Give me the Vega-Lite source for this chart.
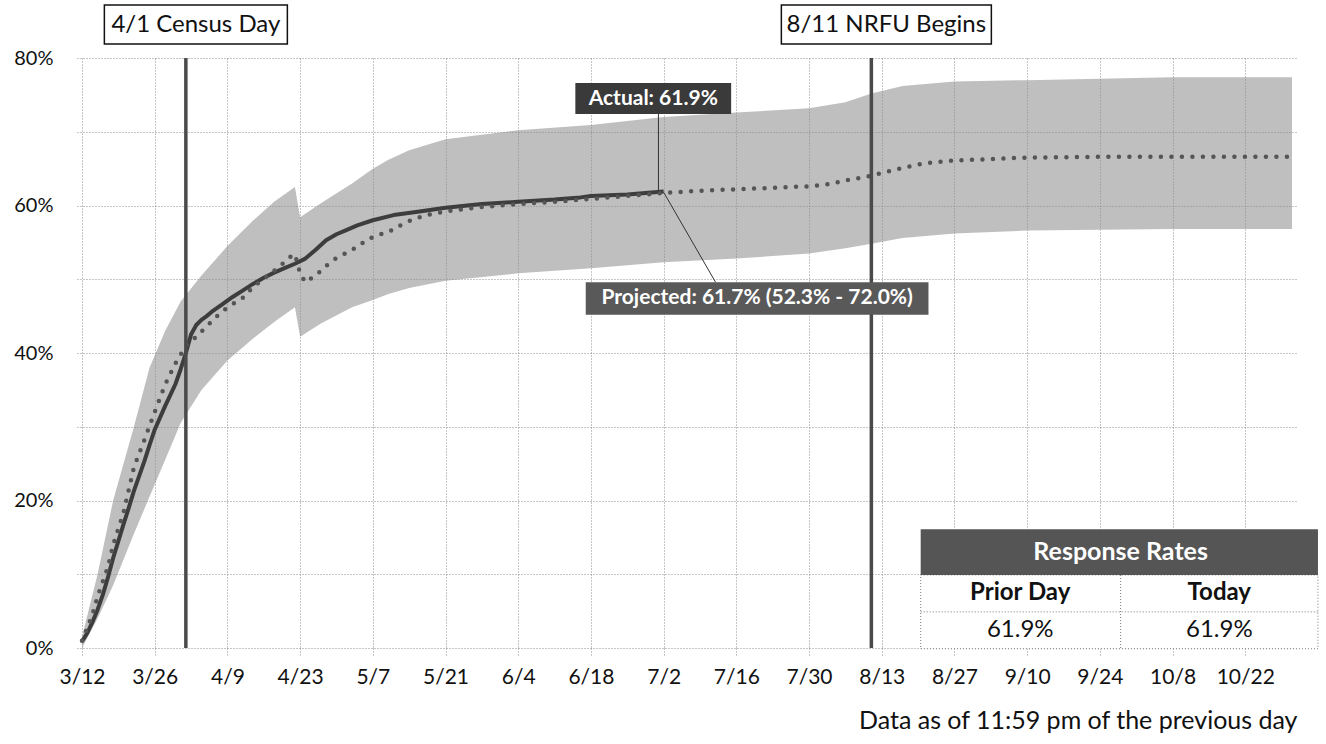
{
  "$schema": "https://vega.github.io/schema/vega-lite/v6.json",
  "width": 1220,
  "height": 590,
  "autosize": {"type": "none"},
  "padding": {"left": 77, "top": 58, "right": 29, "bottom": 96},
  "background": "white",
  "config": {
    "view": {"stroke": null},
    "font": "Lato",
    "text": {"font": "Lato"}
  },
  "datasets": {
    "actual": [
      {"date": "2020-03-12", "rate": 0.9},
      {"date": "2020-03-13", "rate": 2.0},
      {"date": "2020-03-14", "rate": 3.5},
      {"date": "2020-03-15", "rate": 5.2},
      {"date": "2020-03-16", "rate": 7.2},
      {"date": "2020-03-17", "rate": 9.6},
      {"date": "2020-03-18", "rate": 12.2},
      {"date": "2020-03-19", "rate": 14.5},
      {"date": "2020-03-20", "rate": 16.8},
      {"date": "2020-03-21", "rate": 19.0},
      {"date": "2020-03-22", "rate": 21.3},
      {"date": "2020-03-23", "rate": 23.3},
      {"date": "2020-03-24", "rate": 25.3},
      {"date": "2020-03-25", "rate": 27.5},
      {"date": "2020-03-26", "rate": 29.6},
      {"date": "2020-03-27", "rate": 31.2},
      {"date": "2020-03-28", "rate": 32.8},
      {"date": "2020-03-29", "rate": 34.3},
      {"date": "2020-03-30", "rate": 35.8},
      {"date": "2020-03-31", "rate": 37.8},
      {"date": "2020-04-01", "rate": 40.0},
      {"date": "2020-04-02", "rate": 42.5},
      {"date": "2020-04-03", "rate": 43.8},
      {"date": "2020-04-04", "rate": 44.5},
      {"date": "2020-04-05", "rate": 45.0},
      {"date": "2020-04-06", "rate": 45.6},
      {"date": "2020-04-08", "rate": 46.6},
      {"date": "2020-04-10", "rate": 47.6},
      {"date": "2020-04-12", "rate": 48.5},
      {"date": "2020-04-14", "rate": 49.4},
      {"date": "2020-04-16", "rate": 50.2},
      {"date": "2020-04-18", "rate": 50.9},
      {"date": "2020-04-20", "rate": 51.5},
      {"date": "2020-04-22", "rate": 52.1},
      {"date": "2020-04-24", "rate": 52.8},
      {"date": "2020-04-26", "rate": 54.0},
      {"date": "2020-04-28", "rate": 55.3},
      {"date": "2020-04-30", "rate": 56.1},
      {"date": "2020-05-02", "rate": 56.7},
      {"date": "2020-05-04", "rate": 57.3},
      {"date": "2020-05-07", "rate": 58.0},
      {"date": "2020-05-11", "rate": 58.7},
      {"date": "2020-05-16", "rate": 59.2},
      {"date": "2020-05-21", "rate": 59.7},
      {"date": "2020-05-28", "rate": 60.2},
      {"date": "2020-06-04", "rate": 60.5},
      {"date": "2020-06-11", "rate": 60.8},
      {"date": "2020-06-16", "rate": 61.1},
      {"date": "2020-06-18", "rate": 61.3},
      {"date": "2020-06-25", "rate": 61.5},
      {"date": "2020-07-02", "rate": 61.9}
    ],
    "projected": [
      {"date": "2020-03-12", "rate": 1.0},
      {"date": "2020-03-14", "rate": 4.5},
      {"date": "2020-03-15", "rate": 7.0},
      {"date": "2020-03-16", "rate": 9.0},
      {"date": "2020-03-17", "rate": 11.0},
      {"date": "2020-03-18", "rate": 14.0},
      {"date": "2020-03-20", "rate": 18.4},
      {"date": "2020-03-22", "rate": 24.5},
      {"date": "2020-03-24", "rate": 28.2},
      {"date": "2020-03-26", "rate": 32.0},
      {"date": "2020-03-28", "rate": 35.7},
      {"date": "2020-03-30", "rate": 38.6},
      {"date": "2020-04-01", "rate": 41.0},
      {"date": "2020-04-03", "rate": 42.2},
      {"date": "2020-04-05", "rate": 43.6},
      {"date": "2020-04-07", "rate": 45.0},
      {"date": "2020-04-09", "rate": 46.2},
      {"date": "2020-04-12", "rate": 47.5},
      {"date": "2020-04-14", "rate": 49.0},
      {"date": "2020-04-17", "rate": 50.6},
      {"date": "2020-04-19", "rate": 51.7},
      {"date": "2020-04-21", "rate": 53.0},
      {"date": "2020-04-22", "rate": 53.4},
      {"date": "2020-04-23", "rate": 50.8},
      {"date": "2020-04-24", "rate": 49.6},
      {"date": "2020-04-26", "rate": 50.5},
      {"date": "2020-04-28", "rate": 51.8},
      {"date": "2020-04-30", "rate": 52.9},
      {"date": "2020-05-02", "rate": 53.6},
      {"date": "2020-05-04", "rate": 54.4},
      {"date": "2020-05-06", "rate": 55.4},
      {"date": "2020-05-08", "rate": 56.0},
      {"date": "2020-05-10", "rate": 56.4},
      {"date": "2020-05-12", "rate": 57.2},
      {"date": "2020-05-14", "rate": 57.9},
      {"date": "2020-05-16", "rate": 58.4},
      {"date": "2020-05-18", "rate": 58.8},
      {"date": "2020-05-21", "rate": 59.2},
      {"date": "2020-05-28", "rate": 59.8},
      {"date": "2020-06-04", "rate": 60.2},
      {"date": "2020-06-11", "rate": 60.5},
      {"date": "2020-06-18", "rate": 60.9},
      {"date": "2020-06-25", "rate": 61.3},
      {"date": "2020-07-02", "rate": 61.7},
      {"date": "2020-07-09", "rate": 62.0},
      {"date": "2020-07-16", "rate": 62.2},
      {"date": "2020-07-23", "rate": 62.4},
      {"date": "2020-07-30", "rate": 62.6},
      {"date": "2020-08-03", "rate": 62.9},
      {"date": "2020-08-06", "rate": 63.4},
      {"date": "2020-08-10", "rate": 63.9},
      {"date": "2020-08-13", "rate": 64.4},
      {"date": "2020-08-17", "rate": 65.1},
      {"date": "2020-08-21", "rate": 65.7},
      {"date": "2020-08-27", "rate": 66.1},
      {"date": "2020-09-03", "rate": 66.3},
      {"date": "2020-09-10", "rate": 66.5},
      {"date": "2020-09-24", "rate": 66.6},
      {"date": "2020-10-08", "rate": 66.6},
      {"date": "2020-10-31", "rate": 66.6}
    ],
    "band": [
      {"date": "2020-03-12", "lower": 0.0, "upper": 1.5},
      {"date": "2020-03-15", "lower": 4.0, "upper": 10.0},
      {"date": "2020-03-18", "lower": 8.5, "upper": 20.0},
      {"date": "2020-03-22", "lower": 15.5, "upper": 30.0},
      {"date": "2020-03-25", "lower": 20.5, "upper": 38.0},
      {"date": "2020-03-28", "lower": 25.5, "upper": 43.0},
      {"date": "2020-03-31", "lower": 30.5, "upper": 47.0},
      {"date": "2020-04-04", "lower": 35.0, "upper": 50.5},
      {"date": "2020-04-09", "lower": 39.0, "upper": 54.5},
      {"date": "2020-04-14", "lower": 42.0, "upper": 58.0},
      {"date": "2020-04-18", "lower": 44.2, "upper": 60.5},
      {"date": "2020-04-22", "lower": 46.2, "upper": 62.5},
      {"date": "2020-04-23", "lower": 42.2, "upper": 58.4},
      {"date": "2020-04-27", "lower": 44.0, "upper": 60.3},
      {"date": "2020-05-03", "lower": 46.2, "upper": 63.0},
      {"date": "2020-05-07", "lower": 47.2, "upper": 65.0},
      {"date": "2020-05-10", "lower": 48.0, "upper": 66.2},
      {"date": "2020-05-14", "lower": 48.8, "upper": 67.5},
      {"date": "2020-05-21", "lower": 49.8, "upper": 69.0},
      {"date": "2020-06-04", "lower": 50.8, "upper": 70.2},
      {"date": "2020-06-18", "lower": 51.5, "upper": 70.9},
      {"date": "2020-07-02", "lower": 52.3, "upper": 72.0},
      {"date": "2020-07-16", "lower": 52.8, "upper": 72.6},
      {"date": "2020-07-30", "lower": 53.5, "upper": 73.2},
      {"date": "2020-08-06", "lower": 54.2, "upper": 74.0},
      {"date": "2020-08-11", "lower": 54.8, "upper": 75.2},
      {"date": "2020-08-17", "lower": 55.6, "upper": 76.2},
      {"date": "2020-08-27", "lower": 56.2, "upper": 76.8},
      {"date": "2020-09-10", "lower": 56.6, "upper": 77.0},
      {"date": "2020-09-24", "lower": 56.7, "upper": 77.2},
      {"date": "2020-10-08", "lower": 56.8, "upper": 77.4},
      {"date": "2020-10-31", "lower": 56.8, "upper": 77.4}
    ],
    "events": [
      {"date": "2020-04-01", "label": "4/1 Census Day"},
      {"date": "2020-08-11", "label": "8/11 NRFU Begins"}
    ],
    "rates": [
      {"day": "Prior Day", "rate": 0.619},
      {"day": "Today", "rate": 0.619}
    ]
  },
  "layer": [
    {
      "data": {"name": "band"},
      "mark": {"type": "area", "color": "#8a8a8a", "fillOpacity": 0.55},
      "encoding": {
        "x": {
          "field": "date", "type": "temporal",
          "scale": {"type": "utc", "domain": [{"year": 2020, "month": 3, "date": 12, "utc": true}, {"year": 2020, "month": 10, "date": 31, "utc": true}]},
          "axis": {
            "values": [
              {"year": 2020, "month": 3, "date": 12, "utc": true},
              {"year": 2020, "month": 3, "date": 26, "utc": true},
              {"year": 2020, "month": 4, "date": 9, "utc": true},
              {"year": 2020, "month": 4, "date": 23, "utc": true},
              {"year": 2020, "month": 5, "date": 7, "utc": true},
              {"year": 2020, "month": 5, "date": 21, "utc": true},
              {"year": 2020, "month": 6, "date": 4, "utc": true},
              {"year": 2020, "month": 6, "date": 18, "utc": true},
              {"year": 2020, "month": 7, "date": 2, "utc": true},
              {"year": 2020, "month": 7, "date": 16, "utc": true},
              {"year": 2020, "month": 7, "date": 30, "utc": true},
              {"year": 2020, "month": 8, "date": 13, "utc": true},
              {"year": 2020, "month": 8, "date": 27, "utc": true},
              {"year": 2020, "month": 9, "date": 10, "utc": true},
              {"year": 2020, "month": 9, "date": 24, "utc": true},
              {"year": 2020, "month": 10, "date": 8, "utc": true},
              {"year": 2020, "month": 10, "date": 22, "utc": true}
            ],
            "format": "%-m/%-d",
            "labelFontSize": 21,
            "labelColor": "#111111",
            "labelPadding": 9,
            "labelFlush": false,
            "labelOverlap": false,
            "tickSize": 9,
            "tickDash": [1, 2],
            "tickColor": "#8c8c8c",
            "grid": true,
            "gridDash": [1, 2],
            "gridColor": "#8c8c8c",
            "domain": false,
            "title": "Data as of 11:59 pm of the previous day",
            "titleAnchor": "end",
            "titleFontSize": 25,
            "titleFontWeight": "normal",
            "titleColor": "#111111",
            "titlePadding": 21
          }
        },
        "y": {
          "field": "upper", "type": "quantitative",
          "scale": {"domain": [0, 80], "nice": false},
          "axis": {
            "values": [0, 10, 20, 30, 40, 50, 60, 70, 80],
            "labelExpr": "datum.value % 20 === 0 ? datum.value + '%' : ''",
            "labelFontSize": 20,
            "labelColor": "#111111",
            "labelPadding": 24,
            "ticks": false,
            "tickSize": 0,
            "grid": true,
            "gridDash": [1, 2],
            "gridColor": "#8c8c8c",
            "domain": false,
            "title": null
          }
        },
        "y2": {"field": "lower"}
      }
    },
    {
      "data": {"name": "actual"},
      "mark": {"type": "line", "color": "#3d3d3d", "strokeWidth": 4, "strokeJoin": "round"},
      "encoding": {
        "x": {"field": "date", "type": "temporal"},
        "y": {"field": "rate", "type": "quantitative"}
      }
    },
    {
      "data": {"name": "projected"},
      "mark": {"type": "line", "color": "#555555", "strokeWidth": 4.5, "strokeDash": [0, 10.5], "strokeCap": "round"},
      "encoding": {
        "x": {"field": "date", "type": "temporal"},
        "y": {"field": "rate", "type": "quantitative"}
      }
    },
    {
      "data": {"name": "events"},
      "mark": {"type": "rule", "color": "#4a4a4a", "strokeWidth": 3.5},
      "encoding": {
        "x": {"field": "date", "type": "temporal"},
        "y": {"datum": 0},
        "y2": {"datum": 80}
      }
    },
    {
      "data": {"name": "events"},
      "transform": [{"filter": "datum.label === '4/1 Census Day'"}],
      "mark": {"type": "bar", "width": 183, "xOffset": 10, "fill": "white", "stroke": "#111111", "strokeWidth": 1.5},
      "encoding": {
        "x": {"field": "date", "type": "temporal"},
        "y": {"datum": 87.2},
        "y2": {"datum": 81.9}
      }
    },
    {
      "data": {"name": "events"},
      "transform": [{"filter": "datum.label === '8/11 NRFU Begins'"}],
      "mark": {"type": "bar", "width": 210, "xOffset": 15, "fill": "white", "stroke": "#111111", "strokeWidth": 1.5},
      "encoding": {
        "x": {"field": "date", "type": "temporal"},
        "y": {"datum": 87.2},
        "y2": {"datum": 81.9}
      }
    },
    {
      "data": {"name": "events"},
      "transform": [{"filter": "datum.label === '4/1 Census Day'"}],
      "mark": {"type": "text", "fontSize": 24, "xOffset": 10, "align": "center", "baseline": "middle", "color": "#111111"},
      "encoding": {
        "x": {"field": "date", "type": "temporal"},
        "y": {"datum": 84.5},
        "text": {"field": "label"}
      }
    },
    {
      "data": {"name": "events"},
      "transform": [{"filter": "datum.label === '8/11 NRFU Begins'"}],
      "mark": {"type": "text", "fontSize": 24, "xOffset": 15, "align": "center", "baseline": "middle", "color": "#111111"},
      "encoding": {
        "x": {"field": "date", "type": "temporal"},
        "y": {"datum": 84.5},
        "text": {"field": "label"}
      }
    },
    {
      "data": {"values": [{}]},
      "mark": {"type": "rule", "color": "#333333", "strokeWidth": 1},
      "encoding": {
        "x": {"datum": {"year": 2020, "month": 7, "date": 1, "utc": true}},
        "y": {"datum": 72.4},
        "y2": {"datum": 61.9}
      }
    },
    {
      "data": {"values": [{}]},
      "mark": {"type": "rule", "color": "#333333", "strokeWidth": 1},
      "encoding": {
        "x": {"datum": {"year": 2020, "month": 7, "date": 2, "utc": true}},
        "x2": {"datum": {"year": 2020, "month": 7, "date": 12, "utc": true}},
        "y": {"datum": 61.8},
        "y2": {"datum": 49.6}
      }
    },
    {
      "data": {"values": [{}]},
      "mark": {"type": "rect", "fill": "#3a3a3a"},
      "encoding": {
        "x": {"datum": {"year": 2020, "month": 6, "date": 15, "utc": true}},
        "x2": {"datum": {"year": 2020, "month": 7, "date": 15, "utc": true}},
        "y": {"datum": 76.6},
        "y2": {"datum": 72.4}
      }
    },
    {
      "data": {"values": [{}]},
      "mark": {"type": "text", "fontSize": 21, "fontWeight": "bold", "color": "white", "align": "center", "baseline": "middle", "text": "Actual: 61.9%"},
      "encoding": {
        "x": {"datum": {"year": 2020, "month": 6, "date": 30, "utc": true}},
        "y": {"datum": 74.5}
      }
    },
    {
      "data": {"values": [{}]},
      "mark": {"type": "rect", "fill": "#595959"},
      "encoding": {
        "x": {"datum": {"year": 2020, "month": 6, "date": 17, "utc": true}},
        "x2": {"datum": {"year": 2020, "month": 8, "date": 22, "utc": true}},
        "y": {"datum": 49.6},
        "y2": {"datum": 45.2}
      }
    },
    {
      "data": {"values": [{}]},
      "mark": {"type": "text", "fontSize": 21, "fontWeight": "bold", "color": "white", "align": "center", "baseline": "middle", "text": "Projected: 61.7% (52.3% - 72.0%)"},
      "encoding": {
        "x": {"datum": {"year": 2020, "month": 7, "date": 20, "utc": true}},
        "y": {"datum": 47.4}
      }
    },
    {
      "data": {"values": [{}]},
      "mark": {"type": "rect", "fill": "white", "stroke": "#7a7a7a", "strokeDash": [1, 2], "strokeWidth": 1},
      "encoding": {
        "x": {"datum": {"year": 2020, "month": 8, "date": 20, "hours": 12, "utc": true}},
        "x2": {"datum": {"year": 2020, "month": 11, "date": 5, "utc": true}},
        "y": {"datum": 9.9},
        "y2": {"datum": -0.1}
      }
    },
    {
      "data": {"values": [{}]},
      "mark": {"type": "rule", "color": "#7a7a7a", "strokeDash": [1, 2], "strokeWidth": 1},
      "encoding": {
        "x": {"datum": {"year": 2020, "month": 9, "date": 28, "utc": true}},
        "y": {"datum": 9.9},
        "y2": {"datum": -0.1}
      }
    },
    {
      "data": {"values": [{}]},
      "mark": {"type": "rule", "color": "#7a7a7a", "strokeDash": [1, 2], "strokeWidth": 1},
      "encoding": {
        "x": {"datum": {"year": 2020, "month": 8, "date": 20, "hours": 12, "utc": true}},
        "x2": {"datum": {"year": 2020, "month": 11, "date": 5, "utc": true}},
        "y": {"datum": 4.9}
      }
    },
    {
      "data": {"values": [{}]},
      "mark": {"type": "rect", "fill": "#555555"},
      "encoding": {
        "x": {"datum": {"year": 2020, "month": 8, "date": 20, "hours": 12, "utc": true}},
        "x2": {"datum": {"year": 2020, "month": 11, "date": 5, "utc": true}},
        "y": {"datum": 16.1},
        "y2": {"datum": 9.9}
      }
    },
    {
      "data": {"values": [{}]},
      "mark": {"type": "text", "fontSize": 25, "fontWeight": "bold", "color": "white", "align": "center", "baseline": "middle", "text": "Response Rates"},
      "encoding": {
        "x": {"datum": {"year": 2020, "month": 9, "date": 28, "utc": true}},
        "y": {"datum": 13.0}
      }
    },
    {
      "data": {"name": "rates"},
      "transform": [{"filter": "datum.day === 'Prior Day'"}],
      "mark": {"type": "text", "fontSize": 24, "fontWeight": "bold", "color": "#111111", "align": "center", "baseline": "middle"},
      "encoding": {
        "x": {"datum": {"year": 2020, "month": 9, "date": 8, "hours": 16, "utc": true}},
        "y": {"datum": 7.4},
        "text": {"field": "day"}
      }
    },
    {
      "data": {"name": "rates"},
      "transform": [{"filter": "datum.day === 'Today'"}],
      "mark": {"type": "text", "fontSize": 24, "fontWeight": "bold", "color": "#111111", "align": "center", "baseline": "middle"},
      "encoding": {
        "x": {"datum": {"year": 2020, "month": 10, "date": 17, "utc": true}},
        "y": {"datum": 7.4},
        "text": {"field": "day"}
      }
    },
    {
      "data": {"name": "rates"},
      "transform": [{"filter": "datum.day === 'Prior Day'"}],
      "mark": {"type": "text", "fontSize": 24, "color": "#111111", "align": "center", "baseline": "middle"},
      "encoding": {
        "x": {"datum": {"year": 2020, "month": 9, "date": 8, "hours": 16, "utc": true}},
        "y": {"datum": 2.4},
        "text": {"field": "rate", "type": "quantitative", "format": ".1%"}
      }
    },
    {
      "data": {"name": "rates"},
      "transform": [{"filter": "datum.day === 'Today'"}],
      "mark": {"type": "text", "fontSize": 24, "color": "#111111", "align": "center", "baseline": "middle"},
      "encoding": {
        "x": {"datum": {"year": 2020, "month": 10, "date": 17, "utc": true}},
        "y": {"datum": 2.4},
        "text": {"field": "rate", "type": "quantitative", "format": ".1%"}
      }
    }
  ]
}
